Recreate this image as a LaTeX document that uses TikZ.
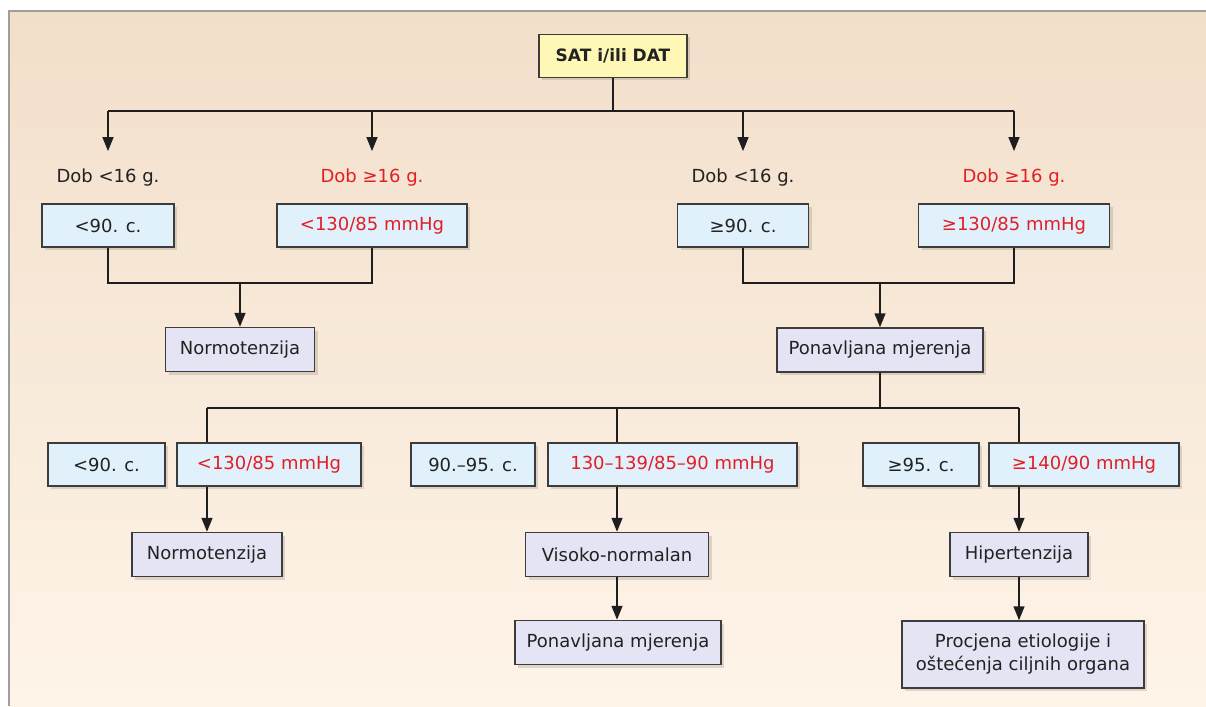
\documentclass[tikz,border=0pt]{standalone}
\usepackage{fontspec}
\setmainfont{DejaVu Sans}
\usetikzlibrary{arrows.meta,shadows}
\definecolor{bgtop}{RGB}{242,223,202}
\definecolor{bgbot}{RGB}{254,244,232}
\definecolor{framec}{RGB}{158,158,158}
\definecolor{edgec}{RGB}{60,60,60}
\definecolor{linec}{RGB}{30,30,30}
\definecolor{txtc}{RGB}{34,34,34}
\definecolor{redc}{RGB}{227,30,36}
\definecolor{satfill}{RGB}{255,247,181}
\definecolor{critfill}{RGB}{224,241,252}
\definecolor{resfill}{RGB}{228,228,244}

\begin{document}
\begin{tikzpicture}[x=1pt,y=-1pt,
		every node/.style={font=\fontsize{18}{23}\selectfont, text=txtc},
		box/.style={draw=edgec, line width=1.5pt, minimum height=43, inner sep=0pt,
			drop shadow={shadow xshift=3pt, shadow yshift=-3pt, opacity=0.12, fill=black}},
		start/.style={box, fill=satfill, font=\fontsize{17}{22}\selectfont\bfseries},
		crit/.style={box, fill=critfill},
		res/.style={box, fill=resfill, minimum height=44},
		age/.style={inner xsep=0pt, inner ysep=18pt},
		adult/.style={text=redc},
		conn/.style={draw=linec, line width=1.5pt},
		arr/.style={conn, -{Triangle[length=14pt,width=11pt]}}]

		\useasboundingbox (0,0) rectangle (1206,706);
		\shade[top color=bgtop, bottom color=bgbot] (9,11) rectangle (1206,706);
		\draw[framec, line width=2.5pt] (9,706) -- (9,11) -- (1206,11);

		\node[start, minimum width=148] (sat) at (613,56) {SAT i/ili DAT};

		\node[age] (dob1) at (108,178) {Dob <16 g.};
		\node[age, adult] (dob2) at (372,178) {Dob ≥16 g.};
		\node[age] (dob3) at (743,178) {Dob <16 g.};
		\node[age, adult] (dob4) at (1014,178) {Dob ≥16 g.};

		\node[crit, minimum width=132] (a1) at (108,225.5) {<90. c.};
		\node[crit, adult, minimum width=190] (a2) at (372,225.5) {<130/85 mmHg};
		\node[crit, minimum width=131] (a3) at (743,225.5) {≥90. c.};
		\node[crit, adult, minimum width=191] (a4) at (1014,225.5) {≥130/85 mmHg};

		\node[res, minimum width=149] (norm1) at (240,349.5) {Normotenzija};
		\node[res, minimum width=206] (pon1) at (880,350) {Ponavljana mjerenja};

		\node[crit, minimum width=117] (b1) at (106.5,464.5) {<90. c.};
		\node[crit, adult, minimum width=184] (b2) at (269,464.5) {<130/85 mmHg};
		\node[crit, minimum width=124] (b3) at (473,464.5) {90.–95. c.};
		\node[crit, adult, minimum width=249] (b4) at (672.5,464.5) {130–139/85–90 mmHg};
		\node[crit, minimum width=116] (b5) at (921,464.5) {≥95. c.};
		\node[crit, adult, minimum width=190] (b6) at (1084,464.5) {≥140/90 mmHg};

		\node[res, minimum width=150] (norm2) at (207,554.5) {Normotenzija};
		\node[res, minimum width=183] (vis) at (617,554.5) {Visoko-normalan};
		\node[res, minimum width=138] (hip) at (1019,554.5) {Hipertenzija};
		\node[res, minimum width=206] (pon2) at (618,642.5) {Ponavljana mjerenja};
		\node[res, minimum width=242, minimum height=67, align=center] (proc) at (1023,654.5)
			{Procjena etiologije i\\oštećenja ciljnih organa};

		\coordinate (bus1) at (613,111);
		\coordinate (j1) at (240,283);
		\coordinate (j2) at (880,283);
		\coordinate (bus2) at (880,408);

		\draw[conn] (sat.south) -- (bus1);
		\draw[conn] (dob1 |- bus1) -- (dob4 |- bus1);
		\draw[arr] (dob1 |- bus1) -- (dob1.north);
		\draw[arr] (dob2 |- bus1) -- (dob2.north);
		\draw[arr] (dob3 |- bus1) -- (dob3.north);
		\draw[arr] (dob4 |- bus1) -- (dob4.north);

		\draw[conn] (a1.south) |- (j1) -| (a2.south);
		\draw[arr] (j1) -- (norm1.north);
		\draw[conn] (a3.south) |- (j2) -| (a4.south);
		\draw[arr] (j2) -- (pon1.north);

		\draw[conn] (pon1.south) -- (bus2);
		\draw[conn] (norm2 |- bus2) -- (hip |- bus2);
		\draw[conn] (norm2 |- bus2) -- (norm2 |- b2.north);
		\draw[conn] (vis |- bus2) -- (vis |- b4.north);
		\draw[conn] (hip |- bus2) -- (hip |- b6.north);

		\draw[arr] (norm2 |- b2.south) -- (norm2.north);
		\draw[arr] (vis |- b4.south) -- (vis.north);
		\draw[arr] (hip |- b6.south) -- (hip.north);
		\draw[arr] (vis.south) -- (vis.south |- pon2.north);
		\draw[arr] (hip.south) -- (hip.south |- proc.north);
\end{tikzpicture}
\end{document}
